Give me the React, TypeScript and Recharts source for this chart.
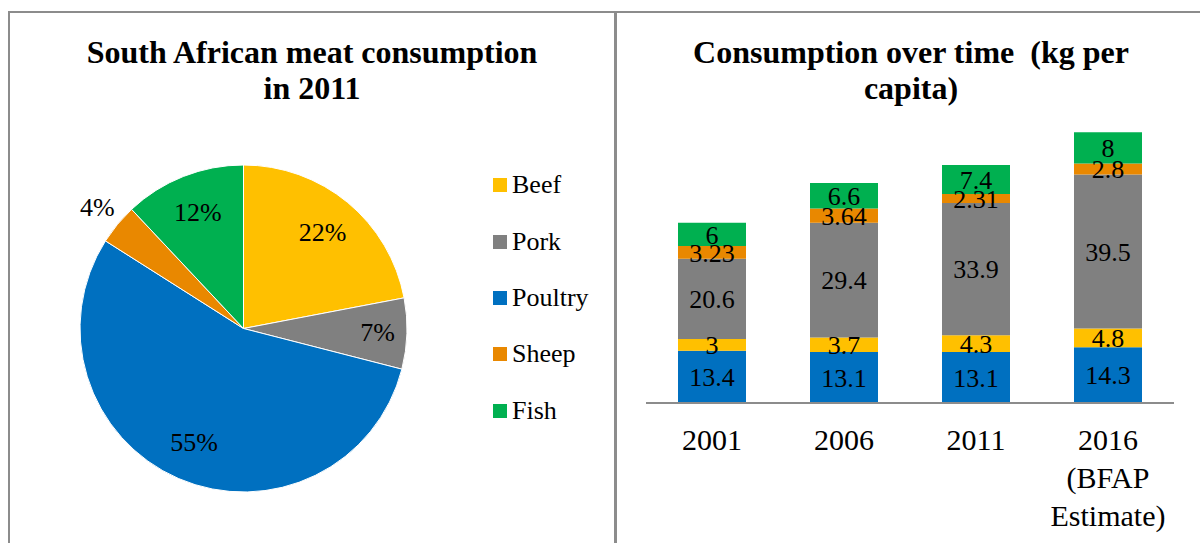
import React from 'react'
import {
  PieChart,
  Pie,
  Cell,
  Legend,
  BarChart,
  Bar,
  XAxis,
  YAxis,
  LabelList,
} from 'recharts'

// Pie: share of meat consumption in 2011 (%)
const meatTypes = ['Beef', 'Pork', 'Poultry', 'Sheep', 'Fish']
const shares2011 = [22, 7, 55, 4, 12]
const meatColors = ['#FFC000', '#808080', '#0070C0', '#E98800', '#00B050']

// Stacked bars: kg per capita
const years = ['2001', '2006', '2011', '2016']
const yearNotes = ['', '', '', '(BFAP|Estimate)']
const poultryKg = [13.4, 13.1, 13.1, 14.3]
const beefKg = [3, 3.7, 4.3, 4.8]
const porkKg = [20.6, 29.4, 33.9, 39.5]
const sheepKg = [3.23, 3.64, 2.31, 2.8]
const fishKg = [6, 6.6, 7.4, 8]

const FONT = 'Liberation Serif, DejaVu Serif, Tinos, Times New Roman, serif'
const BORDER = '#8C8C8C'

const pieData = meatTypes.map((name, i) => ({ name, value: shares2011[i] }))

const barData = years.map((year, i) => ({
  year,
  poultry: poultryKg[i],
  beef: beefKg[i],
  pork: porkKg[i],
  sheep: sheepKg[i],
  fish: fishKg[i],
}))

const RADIAN = Math.PI / 180

function PieLabel(props: any) {
  const { cx, cy, midAngle, outerRadius, percent, index } = props
  let r = outerRadius * 0.76
  if (percent < 0.05) r = outerRadius * 1.16
  else if (percent < 0.1) r = outerRadius * 0.82
  const x = cx + r * Math.cos(-midAngle * RADIAN)
  const y = cy + r * Math.sin(-midAngle * RADIAN)
  return (
    <text
      x={x}
      y={y}
      textAnchor="middle"
      dominantBaseline="central"
      fill="#000"
      fontSize={26}
      fontFamily={FONT}
    >
      {`${shares2011[index]}%`}
    </text>
  )
}

// legend keeps the series order of the data, not alphabetical
function LegendList() {
  return (
    <div style={{ fontFamily: FONT, fontSize: 26 }}>
      {meatTypes.map((name, i) => (
        <div
          key={name}
          style={{ display: 'flex', alignItems: 'center', height: 56.4 }}
        >
          <span
            style={{
              display: 'inline-block',
              width: 14,
              height: 14,
              background: meatColors[i],
              marginRight: 5,
            }}
          />
          <span>{name}</span>
        </div>
      ))}
    </div>
  )
}

function YearTick(props: any) {
  const { x, y, payload, index } = props
  const note = yearNotes[index] ? yearNotes[index].split('|') : []
  const lines = [payload.value, ...note]
  return (
    <g>
      {lines.map((line: string, i: number) => (
        <text
          key={i}
          x={x}
          y={y + 36 + i * 38}
          textAnchor="middle"
          dominantBaseline="central"
          fill="#000"
          fontSize={30}
          fontFamily={FONT}
        >
          {line}
        </text>
      ))}
    </g>
  )
}

const titleStyle: React.CSSProperties = {
  position: 'absolute',
  top: 34,
  textAlign: 'center',
  fontFamily: FONT,
  fontWeight: 'bold',
  fontSize: 32,
  lineHeight: '36px',
  whiteSpace: 'pre',
  color: '#000',
}

export default function App() {
  const segments = [
    { key: 'poultry', color: meatColors[2] },
    { key: 'beef', color: meatColors[0] },
    { key: 'pork', color: meatColors[1] },
    { key: 'sheep', color: meatColors[3] },
    { key: 'fish', color: meatColors[4] },
  ]

  return (
    <div
      style={{
        position: 'absolute',
        left: 0,
        top: 0,
        width: 1200,
        height: 543,
        overflow: 'hidden',
        background: '#fff',
      }}
    >
      {/* panel frames */}
      <div
        style={{
          position: 'absolute',
          left: 8,
          top: 11,
          width: 604,
          height: 600,
          border: `2px solid ${BORDER}`,
        }}
      />
      <div
        style={{
          position: 'absolute',
          left: 615,
          top: 11,
          width: 620,
          height: 600,
          border: `2px solid ${BORDER}`,
        }}
      />

      {/* Pie chart */}
      <div style={{ position: 'absolute', left: 0, top: 0 }}>
        <PieChart
          width={614}
          height={543}
          margin={{ top: 0, right: 0, bottom: 0, left: 0 }}
        >
          <Pie
            data={pieData}
            dataKey="value"
            nameKey="name"
            cx={243.5}
            cy={328.5}
            outerRadius={163.5}
            startAngle={90}
            endAngle={-270}
            stroke="#fff"
            strokeWidth={1}
            label={PieLabel}
            labelLine={false}
            isAnimationActive={false}
          >
            {pieData.map((d, i) => (
              <Cell key={d.name} fill={meatColors[i]} />
            ))}
          </Pie>
          <Legend
            layout="vertical"
            content={LegendList}
            wrapperStyle={{ position: 'absolute', left: 493, top: 157, width: 120 }}
          />
        </PieChart>
      </div>
      <div style={{ ...titleStyle, left: 12, width: 600 }}>
        {'South African meat consumption\nin 2011'}
      </div>

      {/* Stacked bar chart */}
      <div style={{ position: 'absolute', left: 616, top: 0 }}>
        <BarChart
          width={584}
          height={543}
          data={barData}
          margin={{ top: 130, right: 26, bottom: 0, left: 30 }}
        >
          <YAxis hide domain={[0, 70]} />
          <XAxis
            dataKey="year"
            height={140}
            axisLine={{ stroke: BORDER, strokeWidth: 2 }}
            tickLine={false}
            tickSize={0}
            tickMargin={0}
            interval={0}
            tick={YearTick}
          />
          {segments.map((s) => (
            <Bar
              key={s.key}
              dataKey={s.key}
              stackId="kg"
              fill={s.color}
              barSize={68}
              isAnimationActive={false}
            >
              <LabelList
                dataKey={s.key}
                position="center"
                fill="#000"
                fontSize={26}
                fontFamily={FONT}
              />
            </Bar>
          ))}
        </BarChart>
      </div>
      <div style={{ ...titleStyle, left: 616, width: 590 }}>
        {'Consumption over time  (kg per\ncapita)'}
      </div>
    </div>
  )
}
